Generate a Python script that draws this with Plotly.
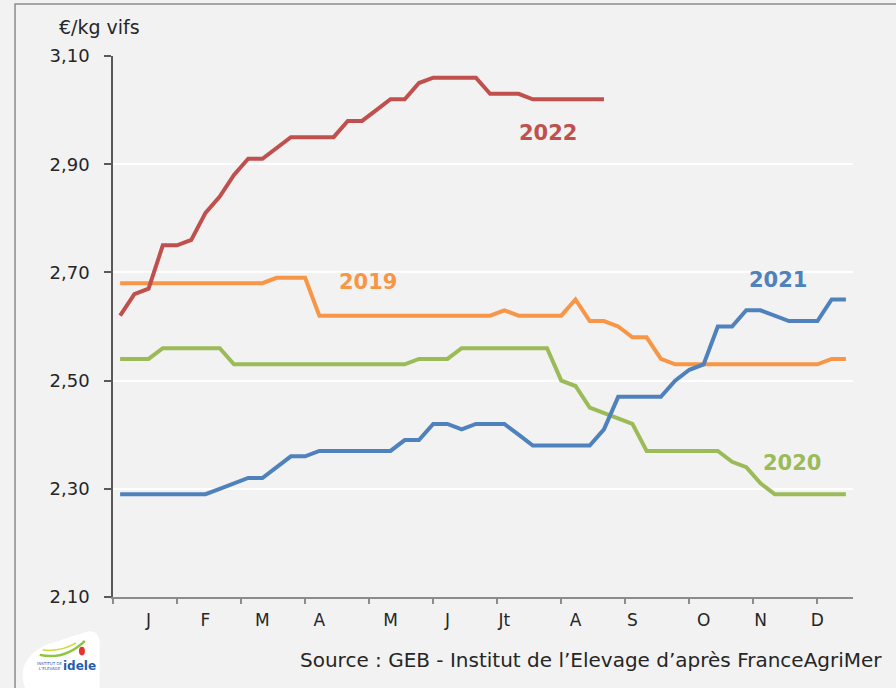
import plotly.graph_objects as go

# weekly prices, €/kg vifs (week 1..52)
weeks = list(range(1, 53))

prix_2019 = [2.68] * 11 + [2.69] * 3 + [2.62] * 13 + [2.63] + [2.62] * 4 + [2.65, 2.61, 2.61, 2.60, 2.58, 2.58, 2.54] + [2.53] * 11 + [2.54, 2.54]
prix_2020 = [2.54] * 3 + [2.56] * 5 + [2.53] * 13 + [2.54] * 3 + [2.56] * 7 + [2.50, 2.49, 2.45, 2.44, 2.43, 2.42] + [2.37] * 6 + [2.35, 2.34, 2.31] + [2.29] * 6
prix_2021 = [2.29] * 7 + [2.30, 2.31, 2.32, 2.32, 2.34, 2.36, 2.36] + [2.37] * 6 + [2.39, 2.39, 2.42, 2.42, 2.41, 2.42, 2.42, 2.42, 2.40] + [2.38] * 5 + [2.41] + [2.47] * 4 + [2.50, 2.52, 2.53, 2.60, 2.60, 2.63, 2.63, 2.62, 2.61, 2.61, 2.61, 2.65, 2.65]
prix_2022 = [2.62, 2.66, 2.67, 2.75, 2.75, 2.76, 2.81, 2.84, 2.88, 2.91, 2.91, 2.93, 2.95, 2.95, 2.95, 2.95, 2.98, 2.98, 3.00, 3.02, 3.02, 3.05, 3.06, 3.06, 3.06, 3.06, 3.03, 3.03, 3.03, 3.02, 3.02, 3.02, 3.02, 3.02, 3.02]

mois = ["J", "F", "M", "A", "M", "J", "Jt", "A", "S", "O", "N", "D"]
mois_semaines = [3, 7, 11, 15, 20, 24, 28, 33, 37, 42, 46, 50]
ticks_semaines = [0.5 + 4.5 * k for k in range(12)]

series = [
    ("2019", prix_2019, "#F79646", 18.4, 2.682),
    ("2020", prix_2020, "#9BBB59", 48.2, 2.348),
    ("2021", prix_2021, "#4F81BD", 47.2, 2.686),
    ("2022", prix_2022, "#C0504D", 31.1, 2.957),
]

FONT = "DejaVu Sans"
BG = "#F2F2F2"
TXT = "#262626"

fig = go.Figure()
for name, vals, color, lx, ly in series:
    fig.add_trace(go.Scatter(
        x=weeks[:len(vals)], y=vals, mode="lines", name=name,
        line=dict(color=color, width=4), showlegend=False,
    ))
    fig.add_annotation(x=lx, y=ly, text="<b>%s</b>" % name, showarrow=False,
                       font=dict(family=FONT, size=21, color=color))

# invisible trace to carry the tick-mark axis
fig.add_trace(go.Scatter(x=[0.5, 52.5], y=[2.1, 2.1], mode="lines",
                         line=dict(width=0), xaxis="x2", hoverinfo="skip",
                         showlegend=False))

fig.add_annotation(x=-0.018, y=1.054, xref="paper", yref="paper",
                   xanchor="center", yanchor="middle",
                   text="€/kg vifs", showarrow=False,
                   font=dict(family=FONT, size=19, color=TXT))
fig.add_annotation(x=1.042, y=-0.117, xref="paper", yref="paper",
                   xanchor="right", yanchor="middle",
                   text="Source : GEB - Institut de l’Elevage d’après FranceAgriMer",
                   showarrow=False, font=dict(family=FONT, size=20, color=TXT))

# logo Idele (approximation)
fig.add_shape(type="path", xref="paper", yref="paper", layer="above",
              path="M -0.119 -0.168 Q -0.132 -0.117 -0.092 -0.089 L -0.038 -0.065 "
                   "Q -0.018 -0.057 -0.018 -0.089 L -0.018 -0.168 Z",
              fillcolor="white", line=dict(width=0))
fig.add_shape(type="path", xref="paper", yref="paper", layer="above",
              path="M -0.099 -0.107 Q -0.065 -0.117 -0.038 -0.081",
              line=dict(color="#8DC63F", width=2.5))
fig.add_shape(type="path", xref="paper", yref="paper", layer="above",
              path="M -0.095 -0.098 Q -0.07 -0.102 -0.05 -0.085",
              line=dict(color="#C8DC3C", width=1.5))
fig.add_shape(type="circle", xref="paper", yref="paper", layer="above",
              x0=-0.046, x1=-0.038, y0=-0.108, y1=-0.092,
              fillcolor="#E3342F", line=dict(width=0))
fig.add_annotation(x=-0.045, y=-0.127, xref="paper", yref="paper",
                   xanchor="center", yanchor="middle",
                   text="<b>idele</b>", showarrow=False,
                   font=dict(family=FONT, size=12, color="#1F5FAE"))
fig.add_annotation(x=-0.085, y=-0.127, xref="paper", yref="paper",
                   xanchor="center", yanchor="middle",
                   text="INSTITUT DE<br>L'ELEVAGE", showarrow=False,
                   font=dict(family=FONT, size=4, color="#1F5FAE"))

# frame
fig.add_shape(type="rect", xref="paper", yref="paper", layer="below",
              x0=-0.1324, y0=-0.3, x1=1.2, y1=1.0961,
              line=dict(color="#8C8C8C", width=1.5), fillcolor="rgba(0,0,0,0)")

fig.update_layout(
    width=896, height=688,
    margin=dict(l=113, r=43, t=56, b=91),
    paper_bgcolor=BG, plot_bgcolor=BG,
    separators=", ",
    font=dict(family=FONT, color=TXT),
    xaxis=dict(
        range=[0.5, 52.5], tickvals=mois_semaines, ticktext=mois,
        ticks="", showgrid=False, zeroline=False,
        showline=True, linecolor="#8C8C8C", linewidth=1.5,
        tickfont=dict(size=17, color=TXT), ticklabelstandoff=7,
    ),
    xaxis2=dict(
        range=[0.5, 52.5], overlaying="x", anchor="y", side="bottom",
        tickvals=ticks_semaines, showticklabels=False,
        ticks="outside", ticklen=6, tickcolor="#8C8C8C", tickwidth=1.5,
        showgrid=False, zeroline=False, showline=False,
    ),
    yaxis=dict(
        range=[2.10, 3.10], tick0=2.10, dtick=0.20, tickformat=".2f",
        showgrid=True, gridcolor="white", gridwidth=1.5, zeroline=False,
        showline=True, linecolor="#595959", linewidth=1.5,
        ticks="outside", ticklen=7, tickcolor="#595959", tickwidth=1.5,
        tickfont=dict(size=18, color=TXT), ticklabelstandoff=11,
    ),
)

fig.write_html("out.html", config={"displayModeBar": False},
               post_script="document.body.style.margin='0';")
